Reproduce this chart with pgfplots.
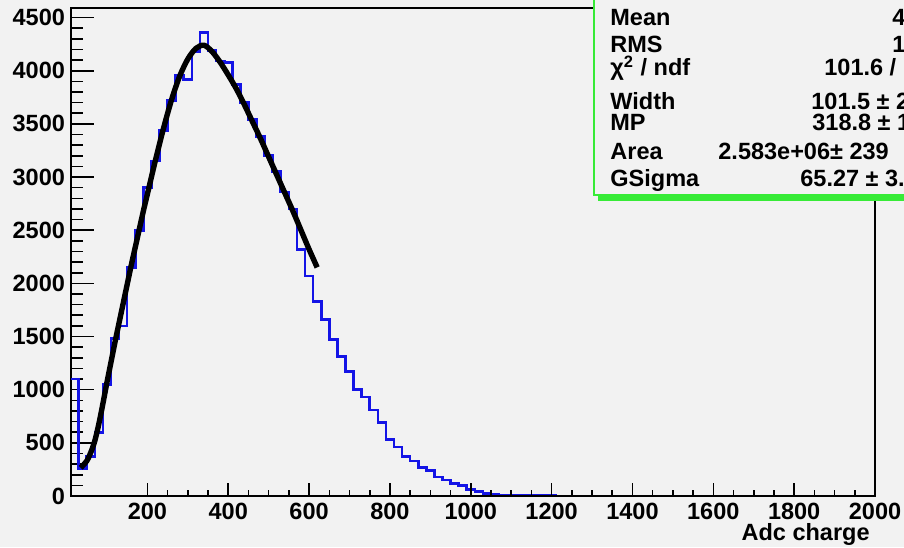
\documentclass[border=0pt]{standalone}
\usepackage{pgfplots}
\pgfplotsset{compat=1.18}
\usepackage{fontspec}
\setmainfont{Liberation Sans}
\definecolor{bg}{RGB}{242,242,242}
\definecolor{hblue}{RGB}{20,20,230}
\definecolor{sgreen}{RGB}{55,235,55}
\pgfplotstableread{
x y
10 1100
30 260
50 370
70 600
90 1050
110 1480
130 1600
150 2150
170 2500
190 2900
210 3150
230 3440
250 3720
270 3960
290 3920
310 4180
330 4360
350 4190
370 4090
390 4080
410 3870
430 3700
450 3540
470 3380
490 3200
510 3050
530 2860
550 2700
570 2320
590 2070
610 1830
630 1660
650 1470
670 1310
690 1170
710 1000
730 930
750 810
770 690
790 530
810 460
830 370
850 330
870 270
890 240
910 180
930 150
950 120
970 100
990 60
1010 40
1030 25
1050 15
1070 10
1090 8
1110 5
1130 4
1150 3
1170 2
1190 2
1210 1
1230 1
1250 0
1990 0
2000 0
}\histdata
\pgfplotstableread{
x y
35 265
50 330
60 410
70 520
80 680
90 870
100 1070
110 1260
120 1450
130 1630
140 1810
150 1990
160 2170
170 2340
180 2510
190 2680
200 2840
220 3160
240 3460
260 3730
280 3950
300 4110
320 4210
340 4240
360 4180
380 4080
400 3960
420 3830
440 3680
460 3520
480 3360
500 3190
520 3020
540 2850
560 2680
580 2500
600 2320
620 2150
}\fitdata
\begin{document}
\begin{tikzpicture}[x=0.5pt,y=0.5pt]
\fill[bg] (0,0) rectangle (904,547);
\begin{axis}[
  at={(35.5pt,25.5pt)}, anchor=south west,
  width=402pt, height=244pt, scale only axis,
  xmin=11, xmax=2000, ymin=0, ymax=4590,
  axis background/.style={fill=bg},
  axis line style={line width=1.2pt, black},
  xmajorticks=false,
  ytick={0,500,...,4500},
  minor y tick num=4,
  ytick pos=left,
  tick align=inside,
  major tick length=11.5pt,
  minor tick length=6pt,
  tick style={line width=0.8pt, black},
  font=\fontsize{11.75}{14}\selectfont\bfseries,
  /pgf/number format/assume math mode=true,
  /pgf/number format/1000 sep={},
  yticklabel style={xshift=0.5pt},
]
\addplot[hblue, line width=1.3pt, const plot] table[x=x,y=y] {\histdata};
\addplot[black, line width=2.7pt, smooth] table[x=x,y=y] {\fitdata};
\end{axis}
\begin{axis}[
  at={(35.5pt,25.5pt)}, anchor=south west,
  width=402pt, height=244pt, scale only axis,
  xmin=11, xmax=2000, ymin=0, ymax=4590,
  axis x line*=bottom,
  hide y axis,
  x axis line style={-, line width=1.2pt, black},
  xtick={200,400,...,2000},
  minor x tick num=3,
  tick align=inside,
  major tick length=6.5pt,
  minor tick length=3.25pt,
  tick style={line width=0.8pt, black},
  font=\fontsize{11.75}{14}\selectfont\bfseries,
  /pgf/number format/assume math mode=true,
  /pgf/number format/1000 sep={},
]
\addplot[draw=none] coordinates {(100,0)};
\end{axis}
\node[anchor=base east, inner sep=0pt, font=\fontsize{11.75}{14}\selectfont\bfseries] at (870,7) {Adc charge};
\begin{scope}
\clip (0,0) rectangle (904,547);
\fill[sgreen] (598,346) rectangle (1000,354);
\fill[bg] (594,352) rectangle (1000,550);
\draw[sgreen, line width=1pt] (594,560) -- (594,352) -- (1000,352);
\begin{scope}[every node/.style={anchor=base west, inner sep=0pt, font=\fontsize{11.75}{14}\selectfont\bfseries}]
\node at (610,521) {Mean};
\node at (610,494) {RMS};
\node at (610,471) {χ\textsuperscript{2} / ndf};
\node at (610,437) {Width};
\node at (610,416) {MP};
\node at (610,387) {Area};
\node at (610,360) {GSigma};
\node at (892,521) {4};
\node at (892,494) {1};
\node at (824,471) {101.6 /};
\node at (811,437) {101.5 ± 2};
\node at (812,416) {318.8 ± 1};
\node at (718,387) {2.583e+06± 239};
\node at (800,360) {65.27 ± 3.};
\end{scope}
\end{scope}
\pgfresetboundingbox
\useasboundingbox (0,0) rectangle (904,547);
\end{tikzpicture}
\end{document}
